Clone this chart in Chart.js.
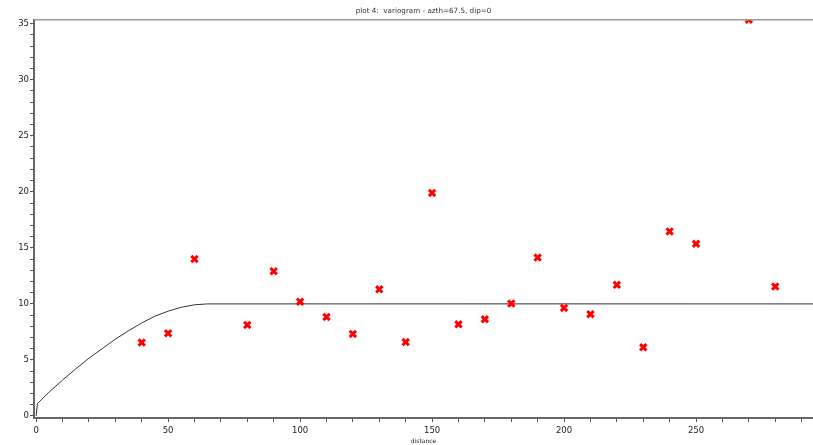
<!DOCTYPE html>
<html>
<head>
<meta charset="utf-8">
<script src="https://cdn.jsdelivr.net/npm/chart.js@4"></script>
<style>
  html, body { margin: 0; padding: 0; background: #fff; overflow: hidden; }
  canvas { display: block; }
</style>
</head>
<body>
<canvas id="vario" width="813" height="445"></canvas>
<script>
// experimental variogram points (lag distance, gamma)
const lagDistance = [40, 50, 60, 80, 90, 100, 110, 120, 130, 140, 150, 160, 170, 180, 190, 200, 210, 220, 230, 240, 250, 270, 280];
const gammaValues = [6.55, 7.38, 14.0, 8.12, 12.92, 10.2, 8.84, 7.32, 11.3, 6.6, 19.9, 8.18, 8.63, 10.03, 14.13, 9.64, 9.08, 11.7, 6.13, 16.46, 15.36, 35.35, 11.55];

// model curve
const modelDistance = [0, 0.5, 5, 10, 15, 20, 25, 30, 35, 40, 45, 50, 55, 60, 65, 295];
const modelGamma = [0, 1.1, 2.15, 3.2, 4.2, 5.15, 6.0, 6.85, 7.6, 8.3, 8.9, 9.35, 9.7, 9.92, 10.0, 10.0];

const xMajor = 50;
const yMajor = 5;

const pts = lagDistance.map((d, i) => ({ x: d, y: gammaValues[i] }));
const model = modelDistance.map((d, i) => ({ x: d, y: modelGamma[i] }));

const FONT = 'DejaVu Sans, Verdana, sans-serif';

// grey line along the top of the plot
const topLine = {
    id: 'topLine',
    afterDatasetsDraw(chart) {
        const { ctx, chartArea } = chart;
        ctx.save();
        ctx.strokeStyle = '#999';
        ctx.lineWidth = 1.5;
        ctx.beginPath();
        ctx.moveTo(chartArea.left, chartArea.top);
        ctx.lineTo(chartArea.right, chartArea.top);
        ctx.stroke();
        ctx.restore();
    }
};

new Chart(document.getElementById('vario'), {
    type: 'scatter',
    data: {
        datasets: [
            {
                type: 'line',
                label: 'model',
                data: model,
                borderColor: '#333',
                borderWidth: 1,
                pointRadius: 0,
                tension: 0,
                fill: false,
                order: 2
            },
            {
                label: 'variogram',
                data: pts,
                pointStyle: 'crossRot',
                pointRadius: 4.5,
                borderColor: '#ff0000',
                backgroundColor: '#ff0000',
                pointBorderWidth: 3,
                clip: 0,
                order: 1
            }
        ]
    },
    plugins: [topLine],
    options: {
        responsive: false,
        animation: false,
        layout: { padding: 0, autoPadding: false },
        plugins: {
            legend: { display: false },
            tooltip: { enabled: false },
            title: {
                display: true,
                fullSize: false,
                text: 'plot 4:  variogram - azth=67.5, dip=0',
                color: '#333',
                font: { family: FONT, size: 7.2, weight: 'normal' },
                padding: { top: 6.5, bottom: 4.5 }
            }
        },
        scales: {
            x: {
                type: 'linear',
                min: -0.8,
                max: 294.3,
                afterFit: s => {
                    s.height = 27;
                    s.paddingLeft = 0;
                    s.paddingRight = 0;
                },
                ticks: {
                    stepSize: 10,
                    includeBounds: false,
                    autoSkip: false,
                    maxRotation: 0,
                    padding: 4,
                    color: '#222',
                    font: { family: FONT, size: 8.5 },
                    callback: v => (v % xMajor === 0 ? String(v) : '')
                },
                grid: {
                    drawOnChartArea: false,
                    drawTicks: true,
                    tickLength: 4,
                    tickColor: '#555',
                    tickWidth: 1
                },
                border: { color: '#666', width: 2 },
                title: {
                    display: true,
                    text: 'distance',
                    color: '#222',
                    font: { family: FONT, size: 6 },
                    padding: 0
                }
            },
            y: {
                type: 'linear',
                min: -0.18,
                max: 35.36,
                afterFit: s => {
                    s.width = 34;
                    s.paddingTop = 0;
                    s.paddingBottom = 0;
                },
                ticks: {
                    stepSize: 1,
                    includeBounds: false,
                    autoSkip: false,
                    padding: 1,
                    color: '#222',
                    font: { family: FONT, size: 8.5 },
                    callback: v => (v % yMajor === 0 ? String(v) : '')
                },
                grid: {
                    drawOnChartArea: false,
                    drawTicks: true,
                    tickLength: 4,
                    tickColor: '#555',
                    tickWidth: 1
                },
                border: { color: '#666', width: 2 }
            }
        }
    }
});
</script>
</body>
</html>
